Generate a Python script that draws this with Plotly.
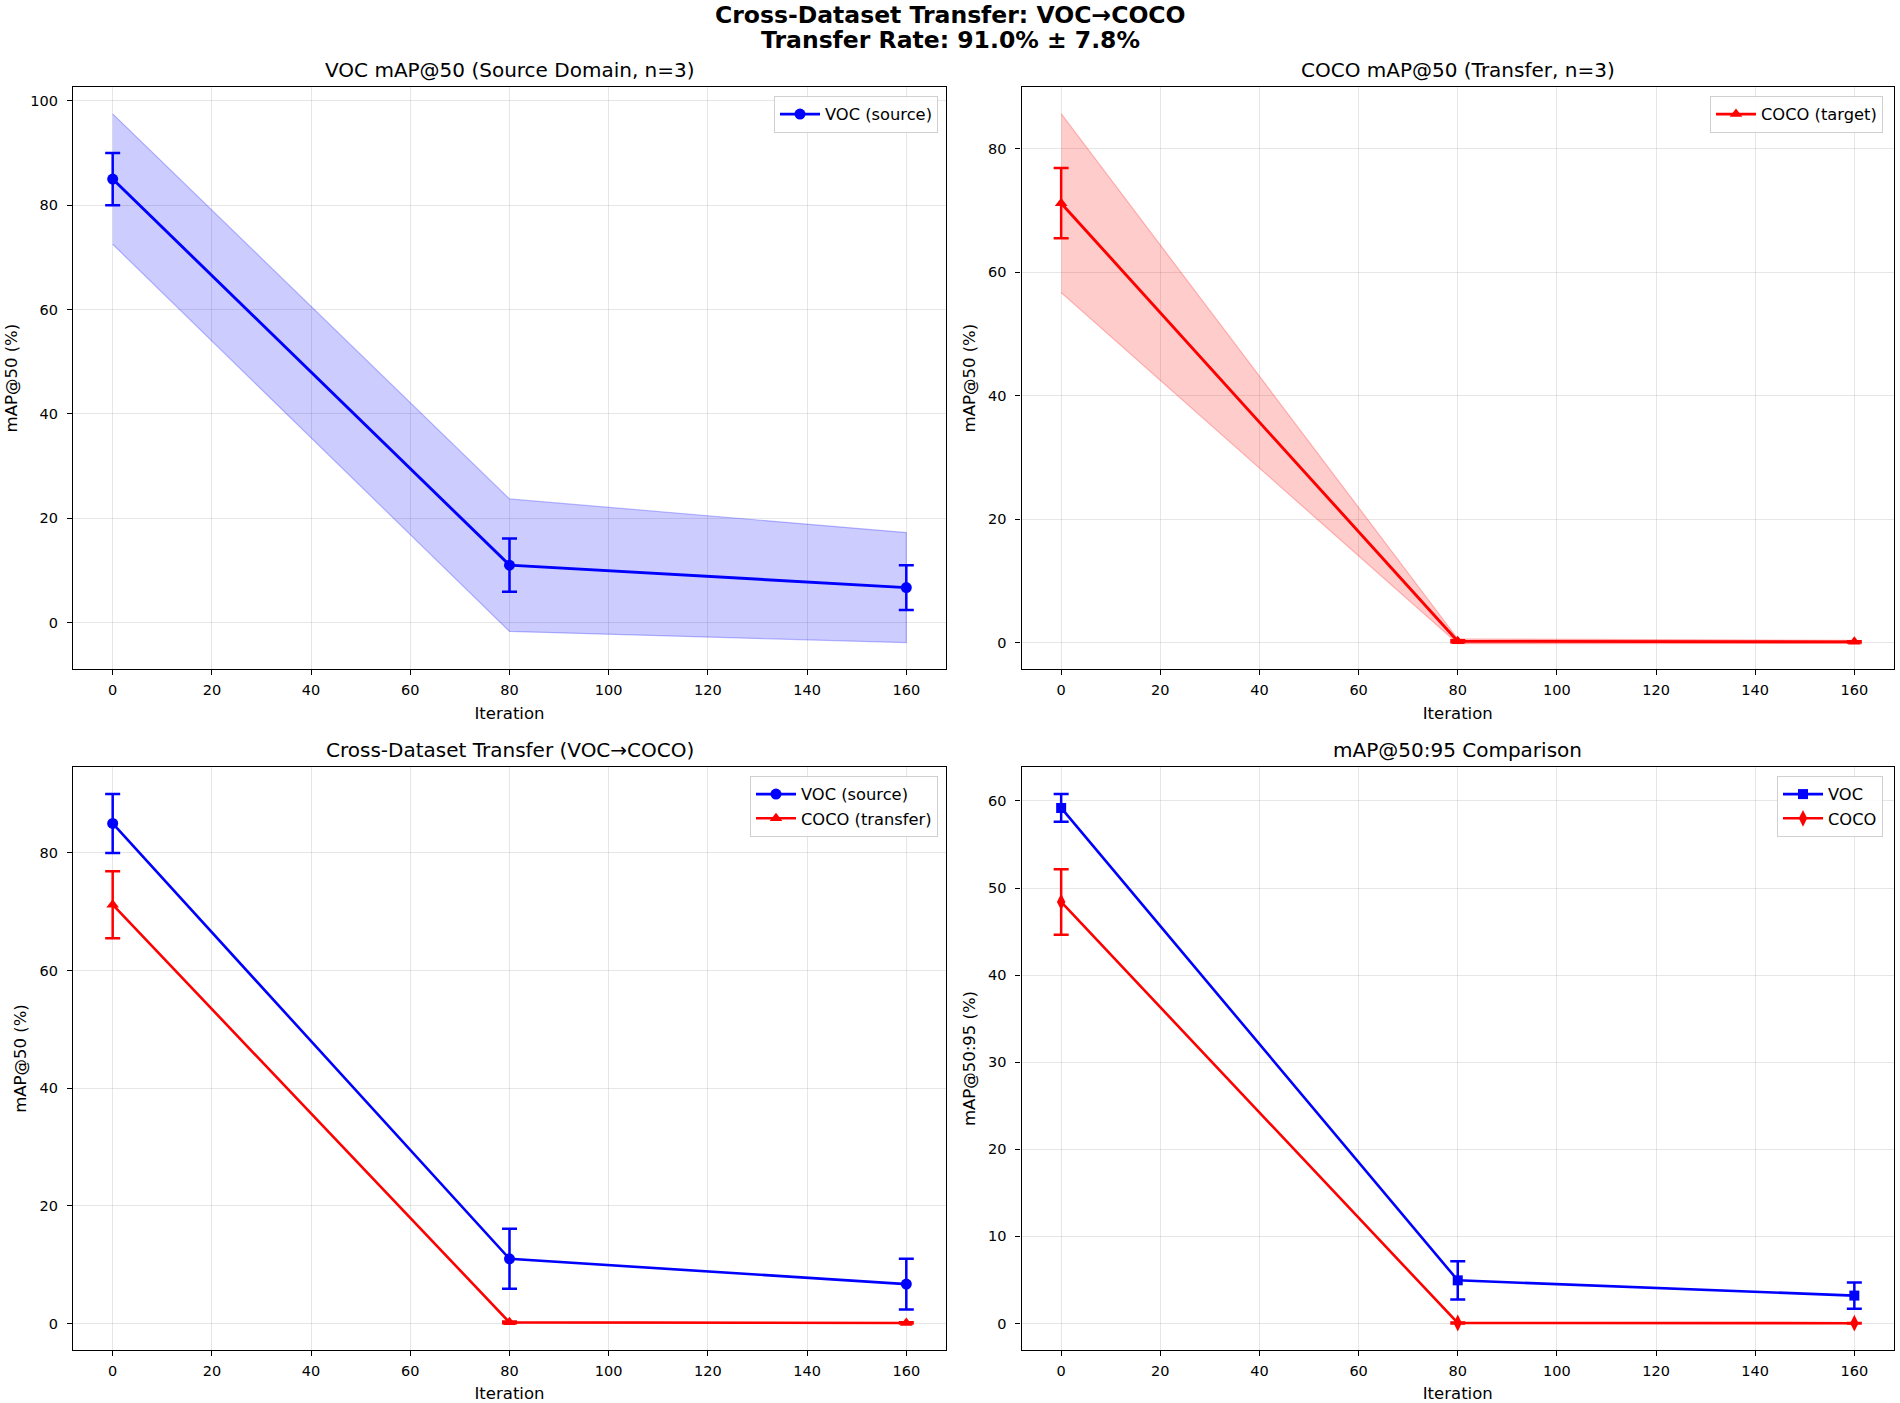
import plotly.graph_objects as go

# ---------------- data ----------------
iterations = [0, 80, 160]

voc_map50_mean = [85.0, 11.0, 6.7]
voc_map50_std = [5.0, 5.1, 4.3]
voc_map50_ci = [12.5, 12.7, 10.55]

coco_map50_mean = [71.2, 0.2, 0.1]
coco_map50_std = [5.7, 0.15, 0.1]
coco_map50_ci = [14.5, 0.4, 0.25]

voc_map5095_mean = [59.2, 4.95, 3.2]
voc_map5095_std = [1.6, 2.2, 1.5]

coco_map5095_mean = [48.4, 0.05, 0.03]
coco_map5095_std = [3.75, 0.05, 0.03]

main_title = "Cross-Dataset Transfer: VOC\u2192COCO"
sub_title = "Transfer Rate: 91.0% \u00b1 7.8%"
panel_titles = [
    "VOC mAP@50 (Source Domain, n=3)",
    "COCO mAP@50 (Transfer, n=3)",
    "Cross-Dataset Transfer (VOC\u2192COCO)",
    "mAP@50:95 Comparison",
]

# ---------------- styling ----------------
W, H = 1900, 1403
FONT = "DejaVu Sans"
BLUE = "#0000ff"
RED = "#ff0000"

xdom_l = [73 / W, 946 / W]
xdom_r = [1021.5 / W, 1894 / W]
ydom_t = [1 - 669 / H, 1 - 87.2 / H]
ydom_b = [1 - 1350 / H, 1 - 767 / H]

fig = go.Figure()


def band(x, mean, ci, color, xa, ya):
    upper = [m + c for m, c in zip(mean, ci)]
    lower = [m - c for m, c in zip(mean, ci)]
    fig.add_trace(go.Scatter(
        x=list(x) + list(x)[::-1], y=upper + lower[::-1],
        fill="toself", fillcolor=color.replace("1)", "0.2)"),
        line=dict(color=color.replace("1)", "0.25)"), width=1.2),
        mode="lines", hoverinfo="skip", showlegend=False,
        xaxis=xa, yaxis=ya))


def errline(x, mean, std, color, symbol, msize, name, xa, ya, legend, lw=2.9):
    fig.add_trace(go.Scatter(
        x=x, y=mean, mode="lines+markers", name=name,
        line=dict(color=color, width=lw),
        marker=dict(color=color, symbol=symbol, size=msize),
        error_y=dict(type="data", array=std, visible=True, color=color,
                     thickness=2.5, width=7.5),
        xaxis=xa, yaxis=ya, legend=legend))


# panel 1
band(iterations, voc_map50_mean, voc_map50_ci, "rgba(0,0,255,1)", "x", "y")
errline(iterations, voc_map50_mean, voc_map50_std, BLUE, "circle", 11,
        "VOC (source)", "x", "y", "legend")
# panel 2
band(iterations, coco_map50_mean, coco_map50_ci, "rgba(255,0,0,1)", "x2", "y2")
errline(iterations, coco_map50_mean, coco_map50_std, RED, "triangle-up", 11,
        "COCO (target)", "x2", "y2", "legend2")
# panel 3
errline(iterations, voc_map50_mean, voc_map50_std, BLUE, "circle", 11,
        "VOC (source)", "x3", "y3", "legend3", lw=2.6)
errline(iterations, coco_map50_mean, coco_map50_std, RED, "triangle-up", 11,
        "COCO (transfer)", "x3", "y3", "legend3", lw=2.6)
# panel 4
errline(iterations, voc_map5095_mean, voc_map5095_std, BLUE, "square", 10,
        "VOC", "x4", "y4", "legend4", lw=2.6)
errline(iterations, coco_map5095_mean, coco_map5095_std, RED, "diamond-tall", 12,
        "COCO", "x4", "y4", "legend4", lw=2.6)

tickfont = dict(family=FONT, size=14.5, color="black")
titlefont = dict(family=FONT, size=16.5, color="black")


def xaxis(dom, anchor):
    return dict(domain=dom, anchor=anchor, range=[-8, 168], dtick=20, tick0=0,
                showline=True, linecolor="black", linewidth=1.2, mirror=True,
                ticks="outside", ticklen=5, tickwidth=1.1, tickcolor="black",
                ticklabelstandoff=2,
                showgrid=True, gridcolor="rgba(176,176,176,0.32)", gridwidth=1,
                zeroline=False, tickfont=tickfont,
                title=dict(text="Iteration", font=titlefont, standoff=10),
                automargin=False)


def yaxis(dom, anchor, rng, dtick, label):
    return dict(domain=dom, anchor=anchor, range=rng, dtick=dtick, tick0=0,
                showline=True, linecolor="black", linewidth=1.2, mirror=True,
                ticks="outside", ticklen=5, tickwidth=1.1, tickcolor="black",
                ticklabelstandoff=6,
                showgrid=True, gridcolor="rgba(176,176,176,0.32)", gridwidth=1,
                zeroline=False, tickfont=tickfont,
                title=dict(text=label, font=titlefont, standoff=8),
                automargin=False)


def legend(x, y):
    return dict(x=x, y=y, xanchor="right", yanchor="top",
                bgcolor="rgba(255,255,255,0.85)", bordercolor="#d0d0d0",
                borderwidth=1, font=dict(family=FONT, size=16.3, color="black"),
                tracegroupgap=2, itemwidth=40)


annotations = [
    dict(text="<b>" + main_title + "</b>", x=0.5, y=1 - 14.5 / H, xref="paper",
         yref="paper", showarrow=False, xanchor="center", yanchor="middle",
         font=dict(family=FONT, size=23.5, color="black")),
    dict(text="<b>" + sub_title + "</b>", x=0.5, y=1 - 40 / H, xref="paper",
         yref="paper", showarrow=False, xanchor="center", yanchor="middle",
         font=dict(family=FONT, size=23.5, color="black")),
]
centers = [(sum(xdom_l) / 2, 1 - 70.3 / H), (sum(xdom_r) / 2, 1 - 70.3 / H),
           (sum(xdom_l) / 2, 1 - 750 / H), (sum(xdom_r) / 2, 1 - 750 / H)]
for t, (cx, cy) in zip(panel_titles, centers):
    annotations.append(dict(text=t, x=cx, y=cy, xref="paper", yref="paper",
                            showarrow=False, xanchor="center", yanchor="middle",
                            font=dict(family=FONT, size=20, color="black")))

fig.update_layout(
    width=W, height=H, margin=dict(l=0, r=0, t=0, b=0),
    paper_bgcolor="white", plot_bgcolor="white",
    font=dict(family=FONT, color="black"),
    xaxis=xaxis(xdom_l, "y"), yaxis=yaxis(ydom_t, "x", [-8.9, 102.6], 20, "mAP@50 (%)"),
    xaxis2=xaxis(xdom_r, "y2"), yaxis2=yaxis(ydom_t, "x2", [-4.3, 90.0], 20, "mAP@50 (%)"),
    xaxis3=xaxis(xdom_l, "y3"), yaxis3=yaxis(ydom_b, "x3", [-4.5, 94.6], 20, "mAP@50 (%)"),
    xaxis4=xaxis(xdom_r, "y4"), yaxis4=yaxis(ydom_b, "x4", [-3.05, 63.9], 10, "mAP@50:95 (%)"),
    legend=legend(938 / W, 1 - 96 / H),
    legend2=legend(1883 / W, 1 - 96 / H),
    legend3=legend(938 / W, 1 - 776 / H),
    legend4=legend(1883 / W, 1 - 776 / H),
    annotations=annotations,
    showlegend=True,
)

fig.write_html("out.html", config={"displayModeBar": False},
               post_script="document.body.style.margin='0';document.body.style.overflow='hidden';")
